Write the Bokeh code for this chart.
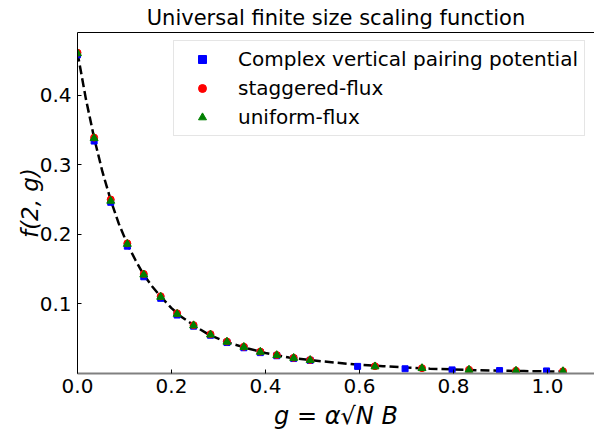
from bokeh.plotting import figure
from bokeh.models import (LinearAxis, FixedTicker, NumeralTickFormatter, Range1d,
                          Legend, LegendItem)
from bokeh.embed import file_html
from bokeh.resources import INLINE

# ---- data ----
x_flux = [0.0, 0.0354, 0.0707, 0.106, 0.141, 0.177, 0.212, 0.247, 0.283, 0.318,
          0.354, 0.389, 0.424, 0.460, 0.495, 0.633, 0.733, 0.833, 0.933, 1.033]
y_staggered = [0.461, 0.339, 0.250, 0.187, 0.143, 0.111, 0.0865, 0.0695, 0.0565, 0.0460,
               0.0385, 0.0315, 0.0265, 0.0225, 0.0195, 0.0105, 0.0077, 0.0055, 0.0040, 0.0033]
y_uniform = [0.460, 0.338, 0.248, 0.186, 0.142, 0.110, 0.0855, 0.0690, 0.0558, 0.0455,
             0.0380, 0.0310, 0.0262, 0.0222, 0.0192, 0.0100, 0.0075, 0.0052, 0.0038, 0.0031]
x_complex = [0.0, 0.0354, 0.0707, 0.106, 0.141, 0.177, 0.212, 0.247, 0.283, 0.318,
             0.354, 0.389, 0.424, 0.460, 0.495, 0.596, 0.697, 0.797, 0.898, 0.998]
y_complex = [0.458, 0.334, 0.246, 0.183, 0.139, 0.108, 0.084, 0.068, 0.055, 0.0445,
             0.037, 0.030, 0.0255, 0.0215, 0.0188, 0.0102, 0.0068, 0.0052, 0.0042, 0.0037]
x_fit = [0.0, 0.0177, 0.0354, 0.053, 0.0707, 0.088, 0.106, 0.124, 0.141, 0.159, 0.177,
         0.20, 0.22, 0.25, 0.28, 0.32, 0.36, 0.40, 0.45, 0.50, 0.55, 0.60, 0.65, 0.70,
         0.75, 0.80, 0.85, 0.90, 0.95, 1.00, 1.033]
y_fit = [0.461, 0.395, 0.3385, 0.290, 0.249, 0.215, 0.186, 0.162, 0.1417, 0.125, 0.1105,
         0.094, 0.082, 0.068, 0.0555, 0.0445, 0.0365, 0.0295, 0.023, 0.019, 0.0155, 0.0125,
         0.0105, 0.0085, 0.007, 0.0058, 0.0048, 0.004, 0.0035, 0.003, 0.0028]
x_ticks = [0.0, 0.2, 0.4, 0.6, 0.8, 1.0]
y_ticks = [0.1, 0.2, 0.3, 0.4]
labels = ["Complex vertical pairing potential", "staggered-flux", "uniform-flux"]

FONT = "DejaVu Sans"

p = figure(width=594, height=432, output_backend="svg", toolbar_location=None,
           x_range=Range1d(0, 1.10), y_range=Range1d(0, 0.490),
           x_axis_location=None, y_axis_location=None,
           min_border_left=77, min_border_right=0, min_border_top=32, min_border_bottom=58,
           title="Universal finite size scaling function")
p.outline_line_color = None
p.xgrid.visible = False
p.ygrid.visible = False
p.background_fill_color = "white"
p.border_fill_color = "white"

p.title.text_font = FONT
p.title.text_font_size = "21px"
p.title.text_font_style = "normal"
p.title.text_color = "black"
p.title.align = "center"
p.title.standoff = 6
p.title.offset = 0

def style_axis(ax, color="black", width=1):
    ax.axis_line_color = color
    ax.axis_line_width = width
    ax.major_tick_in = 4
    ax.major_tick_out = 0
    ax.minor_tick_in = 0
    ax.minor_tick_out = 0
    ax.major_tick_line_color = "black"
    ax.major_label_text_font = FONT
    ax.major_label_text_font_size = "20px"
    ax.major_label_text_color = "black"
    ax.axis_label_text_font = FONT
    ax.axis_label_text_font_size = "23px"
    ax.axis_label_text_font_style = "italic"
    ax.axis_label_text_color = "black"

xb = LinearAxis(ticker=FixedTicker(ticks=x_ticks), formatter=NumeralTickFormatter(format="0.0"),
                axis_label="g = α√N B")
style_axis(xb, color="#808080", width=2)
xb.axis_label_text_font_size = "24px"
xb.major_label_standoff = 5
xb.axis_label_standoff = 6
p.add_layout(xb, "below")

yl = LinearAxis(ticker=FixedTicker(ticks=y_ticks), formatter=NumeralTickFormatter(format="0.0"),
                axis_label="f(2, g)")
style_axis(yl)
yl.major_label_standoff = 6
yl.axis_label_standoff = -6
p.add_layout(yl, "left")

xt = LinearAxis(ticker=FixedTicker(ticks=[]))
xt.axis_line_color = "black"
xt.major_tick_in = 0
xt.major_tick_out = 0
xt.minor_tick_in = 0
xt.minor_tick_out = 0
xt.major_label_text_font_size = "0px"
p.add_layout(xt, "above")

fit = p.line(x_fit, y_fit, line_color="black", line_width=2.5, line_dash="9 4")
r1 = p.scatter(x_complex, y_complex, marker="square", size=6, color="blue")
r2 = p.scatter(x_flux, y_staggered, marker="circle", size=7, color="red")
r3 = p.scatter(x_flux, y_uniform, marker="triangle", size=8, color="green")

legend = Legend(items=[LegendItem(label=labels[0], renderers=[r1]),
                       LegendItem(label=labels[1], renderers=[r2]),
                       LegendItem(label=labels[2], renderers=[r3])],
                location=(96, 237))
legend.label_text_font = FONT
legend.label_text_font_size = "20px"
legend.label_text_color = "black"
legend.padding = 6
legend.spacing = 5
legend.glyph_width = 44
legend.glyph_height = 20
legend.label_height = 24
legend.label_standoff = 14
legend.border_line_color = "#cccccc"
legend.border_line_width = 1
legend.background_fill_alpha = 0.8
legend.margin = 0
p.add_layout(legend, "center")

open("out.html", "w").write(file_html(p, INLINE))
